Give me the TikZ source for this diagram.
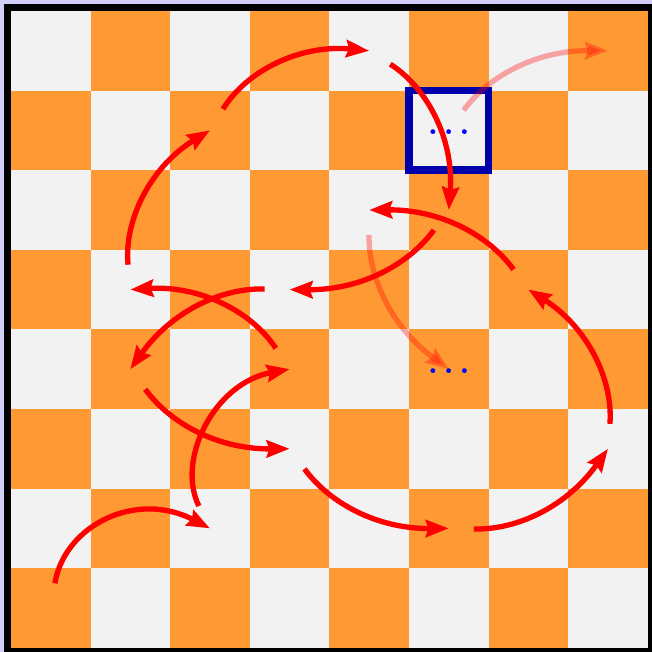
\documentclass[tikz,border=0pt]{standalone}
\usetikzlibrary{arrows.meta}

\definecolor{sqorange}{RGB}{255,153,51}
\definecolor{sqgray}{RGB}{242,242,242}
\definecolor{bglav}{RGB}{210,206,250}
\definecolor{boxblue}{RGB}{0,0,170}
\definecolor{dotblue}{RGB}{0,0,255}
\definecolor{tourred}{RGB}{255,0,0}

\tikzset{
  tourmove/.style={draw=tourred, line width=1.9pt, shorten <=0.314cm,
    -{Stealth[length=8.2pt,width=6.1pt,inset=1pt]}},
  ghostmove/.style={tourmove, opacity=0.33},
  dotsnode/.style={text=dotblue, inner sep=0pt, yshift=-0.6pt,
    font=\fontsize{11}{13}\selectfont\boldmath},
}

\begin{document}
\begin{tikzpicture}

  \path[use as bounding box, fill=bglav] (-0.138,-0.050) rectangle (8.053,8.138);
  \draw[line width=2.5pt] (-0.044,-0.044) rectangle (8.044,8.044);

  \fill[sqgray] (0,0) rectangle (8,8);
  \foreach \x in {0,...,7}
    \foreach \y in {0,...,7} {
      \pgfmathparse{int(mod(\x+\y,2))}
      \ifnum\pgfmathresult=0 \fill[sqorange] (\x,\y) rectangle ++(1,1); \fi
    }

  \foreach \f [count=\x from 0] in {a,b,c,d,e,f,g,h}
    \foreach \r in {1,...,8}
      \coordinate (\f\r) at (\x+0.5,\r-0.5);

  \node[draw=boxblue, line width=2.75pt, minimum size=1cm, inner sep=0pt] (f7box) at (f7) {};

  \draw[ghostmove] (e6) to[bend right=27] (f4);
  \draw[ghostmove] (f7) to[bend left=27]  (h8);

  \draw[tourmove] (a1) to[bend left=54, looseness=1.2] (c2);
  \draw[tourmove] (c2) to[bend left=53, looseness=1.1] (d4);
  \draw[tourmove] (d4) to[bend right=30] (b5);
  \draw[tourmove] (b5) to[bend left=32]  (c7);
  \draw[tourmove] (c7) to[bend left=32]  (e8);
  \draw[tourmove] (e8) to[bend left=31]  (f6);
  \draw[tourmove] (f6) to[bend left=27]  (d5);
  \draw[tourmove] (d5) to[bend right=28] (b4);
  \draw[tourmove] (b4) to[bend right=27] (d3);
  \draw[tourmove] (d3) to[bend right=27] (f2);
  \draw[tourmove] (f2) to[bend right=28] (h3);
  \draw[tourmove] (h3) to[bend right=31] (g5);
  \draw[tourmove] (g5) to[bend right=27] (e6);

  \node[dotsnode] (f7dots) at (f7) {$\ldots$};
  \node[dotsnode] (f4dots) at (f4) {$\ldots$};

\end{tikzpicture}
\end{document}
